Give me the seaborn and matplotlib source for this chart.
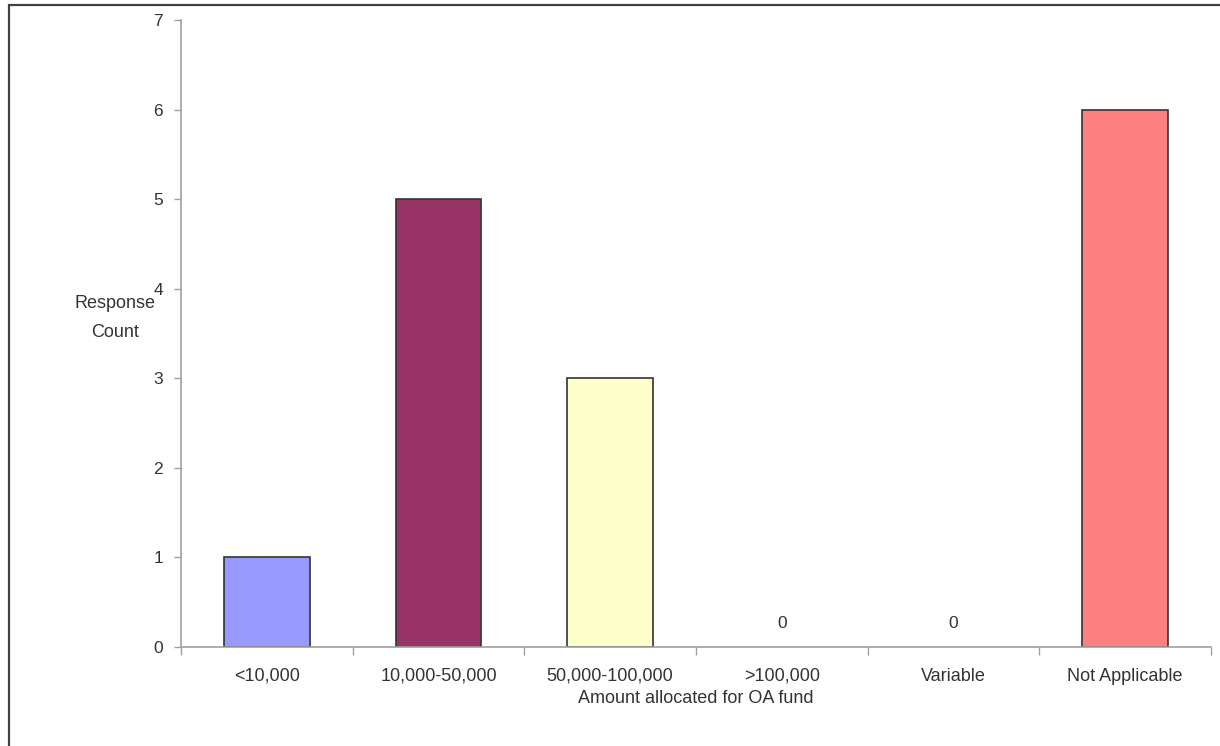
import matplotlib
matplotlib.use("Agg")
import matplotlib.pyplot as plt
from matplotlib.patches import Rectangle
import numpy as np
import pandas as pd
import seaborn as sns

categories = ["<10,000", "10,000-50,000", "50,000-100,000", ">100,000", "Variable", "Not Applicable"]
counts = [1, 5, 3, 0, 0, 6]
bar_colors = ["#9999FF", "#993366", "#FFFFCC", "#9999FF", "#993366", "#FF8080"]

sns.set_theme(style="white")
plt.rcParams["font.family"] = ["Liberation Sans", "DejaVu Sans"]

df = pd.DataFrame({"category": categories, "count": counts})

fig = plt.figure(figsize=(12.2, 7.46), dpi=100)
ax = fig.add_axes([181 / 1220, 1 - 647 / 746, (1211 - 181) / 1220, (647 - 20) / 746])

sns.barplot(data=df, x="category", y="count", hue="category",
            palette=dict(zip(categories, bar_colors)), width=0.5,
            edgecolor="#333333", linewidth=1.2, legend=False, ax=ax,
            saturation=1)

# empty categories get no outline, only their value label
for patch, v in zip(ax.patches, counts):
    if v == 0:
        patch.set_linewidth(0)

for i, v in enumerate(counts):
    if v == 0:
        ax.annotate(f"{v}", (i, v), xytext=(0, 17), textcoords="offset points",
                    ha="center", va="center", fontsize=12.5, color="#333333")

ax.set_xlim(-0.5, len(categories) - 0.5)
ax.set_ylim(0, 7)
ax.set_yticks(range(0, 8))
ax.set_xticks(range(len(categories)))
ax.set_xticklabels(categories)
ax.set_xticks(np.arange(-0.5, len(categories)), minor=True)
ax.tick_params(axis="x", which="major", length=0, pad=15, labelsize=13, colors="#333333")
ax.tick_params(axis="x", which="minor", length=6, width=1, color="#a0a0a0", bottom=True)
ax.tick_params(axis="y", length=5, width=1, color="#a0a0a0", pad=8, labelsize=12.5,
               labelcolor="#333333", left=True)

for side in ["top", "right"]:
    ax.spines[side].set_visible(False)
for side in ["left", "bottom"]:
    ax.spines[side].set_color("#a0a0a0")
    ax.spines[side].set_linewidth(1.2)

ax.set_xlabel("Amount allocated for OA fund", fontsize=13, color="#333333", labelpad=4)
ax.set_ylabel("Response\nCount", fontsize=13, color="#333333", rotation=0,
              ha="center", va="center", linespacing=1.9)
ax.yaxis.set_label_coords(-66 / 1030, (647 - 318) / 627)

# outer chart frame
fig.patches.append(Rectangle((8.5 / 1220, -0.1), 1.2, 1 - 5.5 / 746 + 0.1,
                             transform=fig.transFigure, fill=False,
                             edgecolor="#404040", linewidth=1.6))

fig.savefig("out.png", dpi=100)
